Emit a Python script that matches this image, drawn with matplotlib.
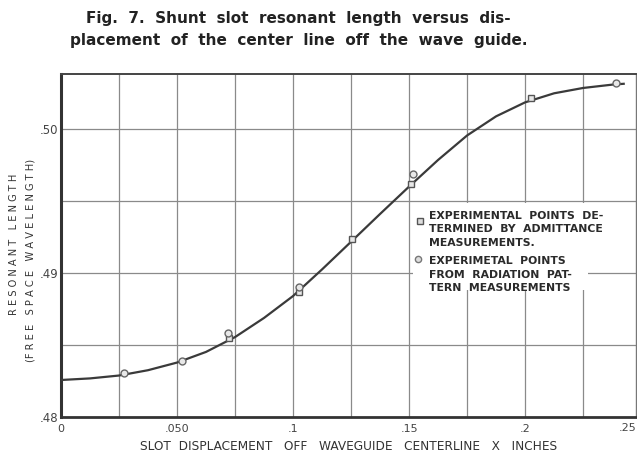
"""
Fig. 7 - shunt slot resonant length vs displacement off the waveguide centerline.
"""

import matplotlib
matplotlib.use('Agg')
import matplotlib.pyplot as plt
from matplotlib.patches import Rectangle

# smooth curve
curve_x = [0, .0125, .025, .0375, .05, .0625, .075, .0875, .1, .1125, .125,
           .1375, .15, .1625, .175, .1875, .2, .2125, .225, .2375, .2425]
curve_y = [.48257, .48268, .48288, .48325, .48378, .48452, .48555, .48688,
           .4884, .49025, .49217, .4941, .4960, .49785, .49955, .50088,
           .50185, .50248, .50285, .50308, .50314]

# admittance measurements (squares)
sq_x = [.0724, .1026, .1254, .1509, .2026]
sq_y = [.48549, .48868, .49236, .49618, .50215]

# radiation pattern measurements (circles)
ci_x = [.0272, .0522, .0720, .1026, .1517, .2392]
ci_y = [.48306, .48389, .48583, .48903, .49688, .50319]

x_ticks = [0, .05, .1, .15, .2]
x_tick_labels = ['0', '.050', '.1', '.15', '.2']
y_ticks = [.48, .49, .50]
y_tick_labels = ['.48', '.49', '.50']

legend_lines = ['EXPERIMENTAL  POINTS  DE-', 'TERMINED  BY  ADMITTANCE',
                'MEASUREMENTS.', 'EXPERIMETAL  POINTS', 'FROM  RADIATION  PAT-',
                'TERN  MEASUREMENTS']

W, H = 637, 455
INK = '#3a3a3a'
GRID = '#8a8a8a'


def fx(px):
    return px / W


def fy(py):
    return 1 - py / H


fig = plt.figure(figsize=(W / 100, H / 100), dpi=100)
ax = fig.add_axes([fx(61), fy(417), fx(636) - fx(61), fy(74) - fy(417)])
ax.set_xlim(0, 0.2478)
ax.set_ylim(0.48, 0.50382)

# grid every .025 / .005
for gx in [.025, .05, .075, .1, .125, .15, .175, .2, .225]:
    ax.axvline(gx, color=GRID, lw=0.9, zorder=1)
for gy in [.485, .49, .495, .50]:
    ax.axhline(gy, color=GRID, lw=0.9, zorder=1)

# white patch behind the legend text
ax.add_patch(Rectangle((0.1515, 0.48885), 0.0755, 0.00603,
                       facecolor='white', edgecolor='none', zorder=1.5))

ax.plot(curve_x, curve_y, color=INK, lw=1.6, zorder=3,
        solid_joinstyle='round')
ax.plot(sq_x, sq_y, 's', ms=5, mfc='#e8e8e8', mec='#555555', mew=1.0,
        zorder=4)
ax.plot(ci_x, ci_y, 'o', ms=5, mfc='#e8e8e8', mec='#666666', mew=1.0,
        zorder=4)

ax.set_xticks(x_ticks)
ax.set_xticklabels(x_tick_labels)
ax.set_yticks(y_ticks)
ax.set_yticklabels(y_tick_labels)
ax.tick_params(axis='x', length=0, labelsize=8, colors='#444444', pad=5)
ax.tick_params(axis='y', length=0, labelsize=8.5, colors='#444444', pad=2)
# last x label sits at the cropped right edge
fig.text(fx(636), fy(423), '.25', fontsize=8, color='#444444', ha='right',
         va='top')

for side, lw, col in [('left', 2.2, '#333333'), ('bottom', 2.0, '#333333'),
                      ('top', 1.4, '#444444'), ('right', 1.0, '#777777')]:
    ax.spines[side].set_linewidth(lw)
    ax.spines[side].set_color(col)

# legend
lx = 0.1585
ly0 = 0.49397
for i, line in enumerate(legend_lines):
    yy = ly0 - i * 0.00093 - (0.00038 if i >= 3 else 0)
    ax.text(lx, yy, line, fontsize=7.8, color='#2a2a2a', va='center',
            ha='left', zorder=5, fontweight='bold')
ax.plot([0.1545], [0.49361], 's', ms=4.5, mfc='#dddddd', mec='#555555',
        mew=1.0, zorder=5)
ax.plot([0.1540], [0.49097], 'o', ms=4.5, mfc='#dddddd', mec='#777777',
        mew=1.0, zorder=5)

# title
fig.text(fx(298), fy(18),
         'Fig.  7.  Shunt  slot  resonant  length  versus  dis-',
         fontsize=11, fontweight='bold', color='#222222', ha='center',
         va='center')
fig.text(fx(299), fy(40),
         'placement  of  the  center  line  off  the  wave  guide.',
         fontsize=11, fontweight='bold', color='#222222', ha='center',
         va='center')

# axis labels
fig.text(fx(14), fy(244), 'R E S O N A N T   L E N G T H', rotation=90,
         fontsize=7.1, color='#333333', ha='center', va='center')
fig.text(fx(31), fy(260), '(F R E E   S P A C E   W A V E L E N G T H)',
         rotation=90, fontsize=7.1, color='#333333', ha='center', va='center')
fig.text(fx(349), fy(447),
         'SLOT  DISPLACEMENT   OFF   WAVEGUIDE   CENTERLINE   X   INCHES',
         fontsize=8.7, color='#333333', ha='center', va='center')

fig.savefig('out.png', dpi=100)
